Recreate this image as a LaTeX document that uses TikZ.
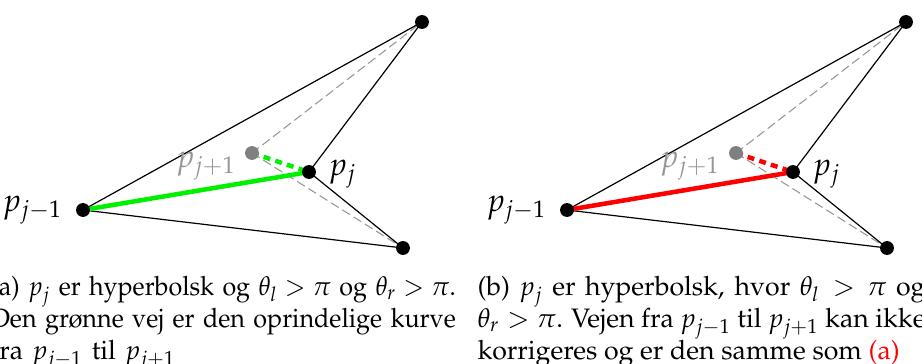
\documentclass[tikz,border=0pt]{standalone}
\usepackage[T1]{fontenc}
\usepackage{mathpazo}
\usepackage{graphicx}
\definecolor{pgreen}{RGB}{0,240,0}
\definecolor{pred}{RGB}{255,0,0}
\definecolor{pgray}{RGB}{128,128,128}
\definecolor{lgray}{RGB}{150,150,150}
\tikzset{
  vtx/.style={circle,fill=black,inner sep=0pt,minimum size=5.2pt},
  gvtx/.style={circle,fill=pgray,inner sep=0pt,minimum size=5.2pt},
  hull/.style={line width=0.45pt,black},
  hidden/.style={line width=0.4pt,lgray,dash pattern=on 3.4pt off 1.6pt},
  curve/.style={line width=1.7pt},
  curvedash/.style={line width=1.7pt,dash pattern=on 2.6pt off 2pt},
  lbl/.style={font=\large,inner sep=0pt},
  captext/.style={anchor=north west,align=justify,inner sep=0pt,font=\normalsize}
}
\newcommand\drawpanel[1]{%
  \coordinate (pm) at (83,210);
  \coordinate (top) at (422,22);
  \coordinate (pj) at (309,172);
  \coordinate (bot) at (403,248);
  \coordinate (pp) at (252,153);
  \draw[hidden] (pp) -- (top);
  \draw[hidden] (pp) -- (bot);
  \draw[hull] (pm) -- (top) -- (pj) -- (bot) -- (pm);
  \draw[curve,#1] (pm) -- (pj);
  \draw[curvedash,#1] (pp) -- (pj);
  \node[vtx] (Pm) at (pm) {};
  \node[vtx] (Top) at (top) {};
  \node[vtx] (Pj) at (pj) {};
  \node[vtx] (Bot) at (bot) {};
  \node[gvtx] (Pp) at (pp) {};
  \node[lbl,anchor=east] (Lm) at (63,210) {$p_{j-1}$};
  \node[lbl,anchor=west] (Lj) at (328,174) {$p_j$};
  \node[lbl,text=lgray] (Lp) at (206,166) {$p_{j+1}$};
}
\begin{document}
\begin{tikzpicture}[x=0.375pt,y=-0.375pt]
\useasboundingbox (0,0) rectangle (922,364);
\begin{scope}[name prefix=a-]
\drawpanel{pgreen}
\end{scope}
\begin{scope}[name prefix=b-,xshift=181.5pt]
\drawpanel{pred}
\end{scope}
\node[captext,align=left,text width=174.5pt] (capa) at (-10,276) {%
\noindent\resizebox{\linewidth}{\height}{(a) $p_j$ er hyperbolsk og $\theta_l>\pi$ og $\theta_r>\pi$.}\\
\noindent\resizebox{\linewidth}{\height}{Den gr\o nne vej er den oprindelige kurve}\\
fra $p_{j-1}$ til $p_{j+1}$};
\node[captext,text width=168pt] (capb) at (477,276) {(b) $p_j$ er hyperbolsk, hvor $\theta_l>\pi$ og $\theta_r>\pi$. Vejen fra $p_{j-1}$ til $p_{j+1}$ kan ikke korrigeres og er den samme som \textcolor{pred}{(a)}};
\end{tikzpicture}
\end{document}
